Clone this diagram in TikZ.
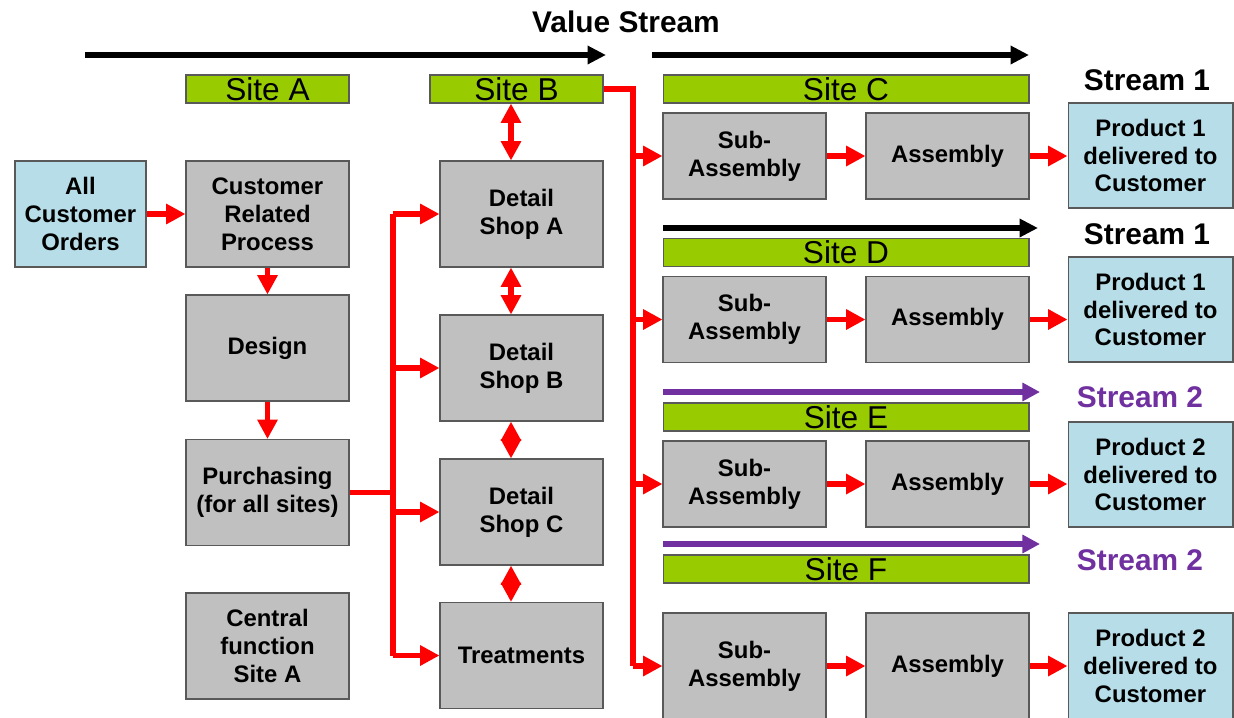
\documentclass[tikz,border=0pt]{standalone}
\usepackage{fontspec}
\setmainfont{Liberation Sans}
\usetikzlibrary{arrows.meta}
\definecolor{sitegreen}{HTML}{99CC00}
\definecolor{boxgray}{HTML}{C0C0C0}
\definecolor{custblue}{HTML}{B7DEE8}
\definecolor{edgegray}{HTML}{595959}
\definecolor{streampurple}{HTML}{7030A0}
\definecolor{flowred}{HTML}{FF0000}
\begin{document}
\begin{tikzpicture}[x=0.02cm, y=-0.02cm,
  box/.style={draw=edgegray, line width=0.6pt, fill=boxgray, align=center, inner sep=1pt,
    minimum width=3.26cm, minimum height=2.12cm, font=\fontsize{13.6}{15.9}\selectfont\bfseries},
  cust/.style={box, fill=custblue},
  rowbox/.style={box, minimum height=1.72cm},
  site/.style={draw=edgegray, line width=0.6pt, fill=sitegreen, inner sep=0pt,
    minimum width=3.26cm, minimum height=0.56cm, font=\fontsize{18}{18}\selectfont},
  stream/.style={font=\fontsize{17}{17}\selectfont\bfseries},
  redline/.style={draw=flowred, line width=3.1pt},
  redarrow/.style={redline, -{Triangle[length=11pt,width=11pt]}},
  redboth/.style={redline, {Triangle[length=11pt,width=11pt]}-{Triangle[length=11pt,width=11pt]}},
  vsarrow/.style={draw=black, line width=3.2pt, -{Triangle[length=10.5pt,width=10pt]}},
  purplearrow/.style={draw=streampurple, line width=2.9pt, -{Triangle[length=10pt,width=10pt]}}]
\useasboundingbox (0,0) rectangle (1234,717);
% Titles
\node [stream] (title) at (626,22) {Value Stream};
\node [stream] (streamC) at (1147,80) {Stream 1};
\node [stream] (streamD) at (1147,234) {Stream 1};
\node [stream, text=streampurple] (streamE) at (1140,397) {Stream 2};
\node [stream, text=streampurple] (streamF) at (1140,560) {Stream 2};
% Sites
\node [site] (siteA) at (267.5,89) {Site A};
\node [site, minimum width=3.46cm] (siteB) at (516.5,89) {Site B};
\node [site, minimum width=7.32cm] (siteC) at (846,89) {Site C};
\node [site, minimum width=7.32cm] (siteD) at (846,252.5) {Site D};
\node [site, minimum width=7.32cm] (siteE) at (846,417) {Site E};
\node [site, minimum width=7.32cm] (siteF) at (846,569) {Site F};
% Site A boxes
\node [cust, minimum width=2.62cm] (orders) at (80.5,214) {All\\Customer\\Orders};
\node [box] (crp) at (267.5,214) {Customer\\Related\\Process};
\node [box] (design) at (267.5,348) {Design};
\node [box] (purch) at (267.5,492.5) {Purchasing\\(for all sites)};
\node [box] (central) at (267.5,646) {Central\\function\\Site A};
% Site B boxes
\node [box] (shopA) at (521.5,214) {Detail\\Shop A};
\node [box] (shopB) at (521.5,368) {Detail\\Shop B};
\node [box] (shopC) at (521.5,512) {Detail\\Shop C};
\node [box] (treat) at (521.5,655.5) {Treatments};
% Sites C to F
\node [rowbox] (subC) at (744.5,156) {Sub-\\Assembly};
\node [rowbox] (asmC) at (947.5,156) {Assembly};
\node [cust, minimum width=3.3cm, minimum height=2.1cm] (prodC) at (1150.5,155.5) {Product 1\\delivered to\\Customer};
\node [rowbox] (subD) at (744.5,319.5) {Sub-\\Assembly};
\node [rowbox] (asmD) at (947.5,319.5) {Assembly};
\node [cust, minimum width=3.3cm, minimum height=2.1cm] (prodD) at (1150.5,309.5) {Product 1\\delivered to\\Customer};
\node [rowbox] (subE) at (744.5,484) {Sub-\\Assembly};
\node [rowbox] (asmE) at (947.5,484) {Assembly};
\node [cust, minimum width=3.3cm, minimum height=2.1cm] (prodE) at (1150.5,474.5) {Product 2\\delivered to\\Customer};
\node [box] (subF) at (744.5,666) {Sub-\\Assembly};
\node [box] (asmF) at (947.5,666) {Assembly};
\node [cust, minimum width=3.3cm] (prodF) at (1150.5,666) {Product 2\\delivered to\\Customer};
% Coordinates
\coordinate (vsA) at (85,55);
\coordinate (vsB) at (606,55);
\coordinate (vsC) at (652,55);
\coordinate (vsD) at (1029,55);
\coordinate (strD) at (663,228);
\coordinate (strDend) at (1038,228);
\coordinate (strE) at (663,392);
\coordinate (strEend) at (1040,392);
\coordinate (strF) at (663,544);
\coordinate (strFend) at (1040,544);
\coordinate (busL) at (393,214);
\coordinate (busLend) at (393,656);
\coordinate (busR) at (633,89);
\coordinate (busRend) at (633,666);
\coordinate (linkx) at (511,0);
% Stream arrows
\draw [vsarrow] (vsA) -- (vsB);
\draw [vsarrow] (vsC) -- (vsD);
\draw [vsarrow] (strD) -- (strDend);
\draw [purplearrow] (strE) -- (strEend);
\draw [purplearrow] (strF) -- (strFend);
% Site A flow
\draw [redarrow] (orders) -- (crp);
\draw [redarrow] (crp) -- (design);
\draw [redarrow] (design) -- (purch);
\draw [redline] (purch.east) -- (purch.east -| busL);
\draw [redline] (busL) -- (busLend);
\draw [redarrow] (busL) -- (shopA.west);
\draw [redarrow] (shopB.west -| busL) -- (shopB.west);
\draw [redarrow] (shopC.west -| busL) -- (shopC.west);
\draw [redarrow] (treat.west -| busL) -- (treat.west);
% Site B links
\draw [redboth] (siteB.south -| linkx) -- (shopA.north -| linkx);
\draw [redboth] (shopA.south -| linkx) -- (shopB.north -| linkx);
\draw [redboth] (shopB.south -| linkx) -- (shopC.north -| linkx);
\draw [redboth] (shopC.south -| linkx) -- (treat.north -| linkx);
\draw [redline] (siteB.east) -- (busR) -- (busRend);
\draw [redarrow] (subC.west -| busR) -- (subC.west);
\draw [redarrow] (subD.west -| busR) -- (subD.west);
\draw [redarrow] (subE.west -| busR) -- (subE.west);
\draw [redarrow] (subF.west -| busR) -- (subF.west);
% Rows
\foreach \r in {C,D,E,F}{
  \draw [redarrow] (sub\r) -- (asm\r);
  \draw [redarrow] (asm\r.east) -- (asm\r.east -| prod\r.west);
}
\end{tikzpicture}
\end{document}
